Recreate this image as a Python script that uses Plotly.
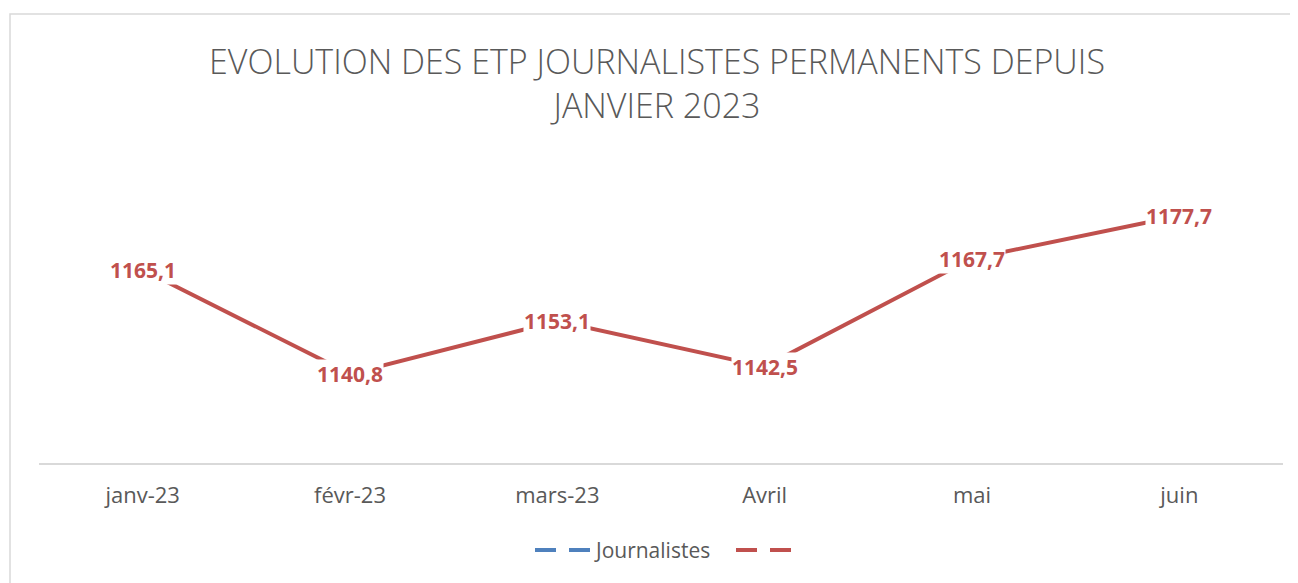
import plotly.graph_objects as go

categories = ["janv-23", "févr-23", "mars-23", "Avril", "mai", "juin"]
values = [1165.1, 1140.8, 1153.1, 1142.5, 1167.7, 1177.7]
labels = ["1165,1", "1140,8", "1153,1", "1142,5", "1167,7", "1177,7"]
legend_names = ["Journalistes", ""]

RED = "#C0504D"
BLUE = "#4F81BD"
GREY = "#595959"

OFF = 8  # page body margin
W, H = 1298, 583
# target page coords of plot area: x 39..1283, y 163..463
L, R, T, B = 39 - OFF, W - (1283 - OFF), 163 - OFF, H - (463 - OFF)
PW, PH = W - L - R, H - T - B

def px(x):  # page x -> paper
    return (x - OFF - L) / PW

def py(y):  # page y -> paper
    return (H - B - (y - OFF)) / PH

fig = go.Figure()
fig.add_trace(go.Scatter(
    x=categories, y=values, mode="lines",
    line=dict(color=RED, width=4), showlegend=False, hoverinfo="skip"))

for c, v, t in zip(categories, values, labels):
    fig.add_annotation(x=c, y=v, text=t, showarrow=False,
                       font=dict(family="Open Sans", size=21, color=RED, weight="bold"),
                       bgcolor="white", borderpad=0, xanchor="center", yanchor="middle")

# chart border
fig.add_shape(type="rect", xref="paper", yref="paper",
              x0=px(10), x1=px(1320), y0=py(14), y1=py(620),
              line=dict(color="#d9d9d9", width=1.5), layer="below")

# legend (manual)
ly = py(550)
for (a, b) in [(535, 556), (569, 590)]:
    fig.add_shape(type="line", xref="paper", yref="paper", x0=px(a), x1=px(b), y0=ly, y1=ly,
                  line=dict(color=BLUE, width=4))
for (a, b) in [(736, 757), (770, 791)]:
    fig.add_shape(type="line", xref="paper", yref="paper", x0=px(a), x1=px(b), y0=ly, y1=ly,
                  line=dict(color=RED, width=4))
fig.add_annotation(xref="paper", yref="paper", x=px(592), y=ly, text=legend_names[0],
                   showarrow=False, xanchor="left", yanchor="middle",
                   font=dict(family="Open Sans", size=21, color=GREY))

fig.update_layout(
    width=W, height=H,
    margin=dict(l=L, r=R, t=T, b=B),
    paper_bgcolor="white", plot_bgcolor="white",
    showlegend=False,
    title=dict(text="EVOLUTION DES ETP JOURNALISTES PERMANENTS DEPUIS<br>JANVIER 2023",
               x=px(661), xanchor="center", y=1 - 66 / H, yanchor="middle",
               font=dict(family="Open Sans", size=34, color=GREY, weight=300)),
    xaxis=dict(showline=True, linecolor="#d9d9d9", linewidth=1.5, showgrid=False,
               zeroline=False, ticks="", ticklabelstandoff=12, range=[-0.5, 5.5],
               tickfont=dict(family="Open Sans", size=22, color=GREY)),
    yaxis=dict(range=[1120, 1190], visible=False, showgrid=False, zeroline=False),
)

fig.write_html("out.html")
